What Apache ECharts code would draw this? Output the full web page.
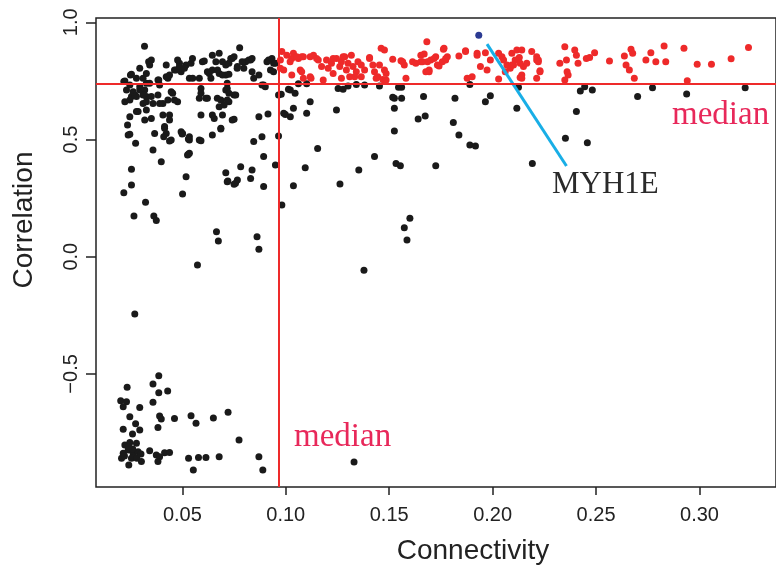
<!DOCTYPE html>
<html>
<head>
<meta charset="utf-8">
<script src="https://cdn.jsdelivr.net/npm/echarts@6/dist/echarts.min.js"></script>
<style>
  html, body { margin: 0; padding: 0; background: #fff; }
  #main { width: 776px; height: 571px; }
</style>
</head>
<body>
<div id="main"></div>
<script>
// 数据: [connectivity, correlation]
var blackPoints = [
  [0.0317,0.898],[0.0217,0.747],[0.0249,0.775],[0.0294,0.804],[0.0337,0.832],[0.035,0.839],[0.023,0.711],[0.0254,0.683],
  [0.0222,0.661],[0.027,0.690],[0.0294,0.725],[0.0326,0.740],[0.0318,0.711],[0.0326,0.683],[0.031,0.654],[0.0326,0.626],
  [0.0278,0.619],[0.0246,0.597],[0.0235,0.562],[0.0238,0.519],[0.0274,0.484],[0.0318,0.583],[0.035,0.590],[0.0366,0.526],
  [0.0358,0.455],[0.0398,0.405],[0.0254,0.373],[0.0254,0.306],[0.0217,0.273],[0.0322,0.232],[0.0266,0.174],[0.0362,0.174],
  [0.0374,0.154],[0.0573,-0.035],[0.0665,0.107],[0.0674,0.067],[0.0861,0.085],[0.087,0.032],[0.1378,-0.058],
  [0.039,0.733],[0.0386,0.754],[0.0422,0.768],[0.0422,0.818],[0.0462,0.797],[0.0486,0.825],[0.0477,0.839],[0.0494,0.789],
  [0.0518,0.818],[0.0542,0.825],[0.0549,0.846],[0.0597,0.832],[0.0645,0.860],[0.0678,0.868],[0.0662,0.832],[0.071,0.818],
  [0.0741,0.846],[0.0777,0.892],[0.0766,0.811],[0.0806,0.832],[0.083,0.839],[0.0837,0.789],[0.087,0.775],[0.0909,0.832],
  [0.0926,0.797],[0.0941,0.825],[0.0453,0.697],[0.043,0.669],[0.0406,0.654],[0.0477,0.661],[0.0438,0.605],[0.0406,0.605],
  [0.0414,0.548],[0.0422,0.526],[0.0446,0.498],[0.0494,0.533],[0.0501,0.526],[0.0534,0.498],[0.0525,0.434],[0.0518,0.341],
  [0.0501,0.267],[0.0582,0.498],[0.059,0.605],[0.0582,0.676],[0.059,0.718],[0.0582,0.761],[0.0614,0.676],[0.0645,0.605],
  [0.0678,0.640],[0.0669,0.676],[0.0645,0.519],[0.0686,0.548],[0.071,0.711],[0.0725,0.661],[0.075,0.690],[0.0717,0.740],
  [0.071,0.775],[0.0678,0.782],[0.063,0.782],[0.075,0.586],[0.071,0.358],[0.0717,0.320],[0.0757,0.313],[0.0766,0.327],
  [0.0782,0.384],[0.083,0.334],[0.0837,0.370],[0.0893,0.299],[0.0893,0.427],[0.0845,0.491],[0.0885,0.512],[0.087,0.597],
  [0.0914,0.609],[0.0893,0.733],[0.0901,0.725],[0.095,0.391],[0.0965,0.515],[0.0981,0.221],
  [0.0342,0.818],[0.0254,0.778],[0.0222,0.750],[0.0246,0.733],[0.0278,0.761],[0.031,0.761],[0.0326,0.782],[0.0342,0.740],
  [0.0382,0.754],[0.043,0.761],[0.0438,0.775],[0.047,0.797],[0.0486,0.811],[0.051,0.804],[0.0534,0.761],[0.0262,0.704],
  [0.0294,0.711],[0.031,0.690],[0.0278,0.683],[0.0246,0.669],[0.0326,0.661],[0.035,0.683],[0.0382,0.690],[0.0358,0.654],
  [0.039,0.654],[0.0446,0.704],[0.0462,0.669],[0.0286,0.619],[0.0438,0.583],[0.0414,0.555],[0.0438,0.494],[0.0246,0.522],
  [0.0534,0.512],[0.0534,0.441],[0.041,0.512],[0.0499,0.523],[0.0529,0.502],[0.059,0.495],[0.0529,0.437],
  [0.0606,0.835],[0.0694,0.832],[0.0734,0.846],[0.075,0.853],[0.0725,0.825],[0.0789,0.832],[0.0821,0.839],[0.0837,0.846],
  [0.0765,0.804],[0.0797,0.804],[0.0645,0.797],[0.0621,0.789],[0.067,0.797],[0.0638,0.761],[0.055,0.761],[0.0694,0.775],
  [0.0725,0.778],[0.0845,0.761],[0.0917,0.839],[0.0933,0.846],[0.095,0.825],[0.0941,0.789],[0.0885,0.733],[0.059,0.697],
  [0.0621,0.676],[0.0686,0.669],[0.0717,0.718],[0.0725,0.697],[0.0758,0.690],[0.0717,0.669],[0.0702,0.647],[0.0694,0.605],
  [0.0654,0.590],[0.0741,0.583],[0.0686,0.545],[0.0965,0.690],[0.072,0.323],[0.075,0.309],
  [0.0978,0.693],[0.1022,0.711],[0.1045,0.697],[0.1061,0.738],[0.1101,0.738],[0.1118,0.661],[0.1101,0.612],[0.1037,0.633],
  [0.1022,0.597],[0.099,0.612],[0.1154,0.462],[0.1094,0.380],[0.1037,0.303],[0.1245,0.626],[0.1262,0.310],[0.1253,0.718],
  [0.1277,0.714],[0.1301,0.728],[0.1341,0.735],[0.1381,0.733],[0.1429,0.427],[0.1353,0.370],[0.1453,0.728],[0.1525,0.676],
  [0.1525,0.633],[0.1525,0.536],[0.1533,0.398],[0.1545,0.723],[0.156,0.723],[0.1517,0.680],[0.156,0.676],[0.1554,0.388],
  [0.1666,0.683],[0.164,0.587],[0.1674,0.600],[0.1725,0.388],[0.1818,0.676],[0.181,0.573],[0.1837,0.519],[0.189,0.477],
  [0.1917,0.472],[0.189,0.735],[0.1965,0.661],[0.1989,0.687],[0.2117,0.633],[0.2125,0.723],[0.2192,0.398],[0.2424,0.707],
  [0.2445,0.725],[0.2482,0.711],[0.2405,0.619],[0.2352,0.505],[0.2458,0.486],[0.2701,0.683],[0.2773,0.721],[0.2938,0.694],
  [0.3221,0.721],[0.1573,0.124],[0.16,0.164],[0.1586,0.071],[0.1013,0.714],[0.0998,0.607],
  [0.027,-0.244],[0.0386,-0.508],[0.0358,-0.543],[0.0233,-0.557],[0.0386,-0.580],[0.0429,-0.573],[0.0202,-0.614],[0.023,-0.619],
  [0.0214,-0.640],[0.0294,-0.643],[0.0358,-0.621],[0.0246,-0.683],[0.039,-0.680],[0.0398,-0.692],[0.0462,-0.690],[0.0542,-0.678],
  [0.0566,-0.711],[0.065,-0.688],[0.0721,-0.664],[0.0274,-0.713],[0.0294,-0.739],[0.0214,-0.736],[0.0259,-0.756],[0.0382,-0.729],
  [0.0774,-0.782],[0.0222,-0.803],[0.0246,-0.793],[0.0278,-0.796],[0.0214,-0.839],[0.0238,-0.825],[0.0262,-0.839],[0.0286,-0.832],
  [0.0206,-0.860],[0.0254,-0.860],[0.0302,-0.874],[0.0241,-0.889],[0.0342,-0.828],[0.0374,-0.846],[0.039,-0.853],[0.0382,-0.874],
  [0.0414,-0.836],[0.0438,-0.835],[0.053,-0.860],[0.0553,-0.910],[0.0578,-0.857],[0.0614,-0.857],[0.0678,-0.853],[0.087,-0.853],
  [0.0889,-0.910],[0.133,-0.876],[0.022,-0.850],[0.026,-0.820],[0.028,-0.860],[0.024,-0.810],[0.030,-0.842]
];

var redPoints = [
  [0.0981,0.875],[0.0974,0.839],[0.0974,0.804],[0.099,0.797],[0.1005,0.860],[0.1029,0.846],[0.1037,0.868],[0.1061,0.846],
  [0.1085,0.853],[0.1029,0.775],[0.107,0.797],[0.1085,0.761],[0.1122,0.761],[0.1118,0.853],[0.1134,0.860],[0.1157,0.839],
  [0.1181,0.754],[0.1173,0.811],[0.1197,0.839],[0.1205,0.804],[0.1221,0.825],[0.1229,0.782],[0.1245,0.846],[0.1261,0.811],
  [0.1269,0.832],[0.1285,0.853],[0.1293,0.797],[0.1301,0.825],[0.1317,0.860],[0.1325,0.811],[0.1269,0.761],[0.1309,0.768],
  [0.1341,0.789],[0.1349,0.832],[0.1365,0.818],[0.1381,0.797],[0.1405,0.846],[0.1421,0.818],[0.1429,0.789],[0.1445,0.768],
  [0.1461,0.889],[0.1477,0.882],[0.1477,0.797],[0.1485,0.782],[0.1477,0.752],[0.1517,0.842],[0.1453,0.818],[0.1469,0.756],
  [0.1557,0.836],[0.1573,0.818],[0.1581,0.761],[0.1613,0.832],[0.1629,0.825],[0.1653,0.832],[0.1653,0.860],[0.1669,0.865],
  [0.1682,0.917],[0.1685,0.832],[0.1701,0.839],[0.1693,0.789],[0.1677,0.789],[0.1725,0.853],[0.1741,0.814],[0.1762,0.885],
  [0.1773,0.839],[0.1781,0.853],[0.1837,0.856],[0.1869,0.879],[0.1877,0.761],[0.1901,0.768],[0.1925,0.868],[0.1965,0.870],
  [0.1941,0.811],[0.1973,0.797],[0.1989,0.839],[0.2029,0.868],[0.2045,0.853],[0.2053,0.839],[0.2069,0.818],[0.2093,0.818],
  [0.2061,0.789],[0.2029,0.758],[0.2093,0.868],[0.2117,0.882],[0.2141,0.882],[0.2129,0.850],[0.2149,0.811],[0.2165,0.825],
  [0.2133,0.765],[0.2141,0.775],[0.2189,0.875],[0.2213,0.853],[0.2221,0.839],[0.2229,0.789],[0.2213,0.761],[0.2325,0.825],
  [0.2349,0.896],[0.2357,0.839],[0.236,0.789],[0.2365,0.775],[0.2349,0.754],[0.2397,0.882],[0.2405,0.860],[0.2413,0.825],
  [0.2453,0.846],[0.2469,0.850],[0.2493,0.870],[0.2565,0.835],[0.2637,0.856],[0.2645,0.818],[0.2661,0.797],[0.2669,0.885],
  [0.2677,0.868],[0.2685,0.761],[0.2741,0.839],[0.2765,0.870],[0.2789,0.832],[0.2829,0.899],[0.2837,0.832],[0.2925,0.889],
  [0.2941,0.751],[0.2989,0.821],[0.3058,0.821],[0.3153,0.845],[0.3237,0.893],
  [0.1021,0.832],[0.1053,0.853],[0.1077,0.853],[0.1149,0.846],[0.1229,0.846],[0.1277,0.853],[0.1405,0.850],[0.1077,0.789],
  [0.1118,0.768],[0.1333,0.768],[0.1365,0.768],[0.1437,0.761],[0.1485,0.754],[0.1565,0.832],[0.1661,0.832],[0.1693,0.797],
  [0.1717,0.846],[0.1733,0.818],[0.1757,0.832],[0.1765,0.889],[0.1773,0.846],[0.1869,0.875],[0.1925,0.860],[0.2085,0.804],
  [0.2109,0.839],[0.2133,0.825],[0.2101,0.818],[0.2213,0.839],[0.2221,0.832],[0.2229,0.793],[0.2141,0.761]
];

var highlightPoint = [[0.1933, 0.9445]];   // MYH1E
var pointerLine = [[0.1973, 0.907], [0.2357, 0.387]];

var medianConnectivity = 0.0965;
var medianCorrelation = 0.740;

var xTicks = [0.05, 0.10, 0.15, 0.20, 0.25, 0.30];
var yTicks = [-0.5, 0.0, 0.5, 1.0];

var myChart = echarts.init(document.getElementById('main'));

var sans = 'Liberation Sans, Arial, sans-serif';
var serif = 'Liberation Serif, Times New Roman, serif';

var option = {
    animation: false,
    backgroundColor: '#fff',
    grid: {
        left: 96, top: 18, right: -5, bottom: 84,
        show: true, borderColor: '#222', borderWidth: 1.5, backgroundColor: 'transparent'
    },
    xAxis: {
        type: 'value',
        min: 0.00825, max: 0.337,
        splitLine: { show: false },
        axisLine: { show: false, onZero: false },
        axisTick: { show: true, length: 8, inside: false, customValues: xTicks,
            lineStyle: { color: '#222', width: 1.5 } },
        axisLabel: { customValues: xTicks, margin: 18, color: '#222',
            fontFamily: sans, fontSize: 20,
            formatter: function (v) { return v.toFixed(2); } }
    },
    yAxis: {
        type: 'value',
        min: -0.9825, max: 1.0184,
        splitLine: { show: false },
        axisLine: { show: false, onZero: false },
        axisTick: { show: true, length: 10, customValues: yTicks,
            lineStyle: { color: '#222', width: 1.5 } },
        axisLabel: { customValues: yTicks, margin: 15, rotate: 90, color: '#222',
            fontFamily: sans, fontSize: 20,
            formatter: function (v) {
                return v < 0 ? '\u2212' + Math.abs(v).toFixed(1) : v.toFixed(1);
            } }
    },
    series: [
        {
            name: 'other', type: 'scatter', symbolSize: 7,
            itemStyle: { color: '#1a1a1a', opacity: 1 },
            data: blackPoints,
            markLine: {
                silent: true, symbol: ['none', 'none'], precision: 4,
                label: { show: false },
                lineStyle: { color: '#ee2a2a', width: 2, type: 'solid' },
                data: [{ xAxis: medianConnectivity }, { yAxis: medianCorrelation }]
            }
        },
        {
            name: 'hub', type: 'scatter', symbolSize: 7,
            itemStyle: { color: '#ee2a2a', opacity: 1 },
            data: redPoints
        },
        {
            name: 'pointer', type: 'line', symbol: 'none',
            lineStyle: { color: '#18aee6', width: 3 },
            data: pointerLine, z: 4
        },
        {
            name: 'MYH1E', type: 'scatter', symbolSize: 7,
            itemStyle: { color: '#2b3a92', opacity: 1 },
            data: highlightPoint, z: 5
        }
    ],
    graphic: [
        { type: 'text', x: 473, y: 551, style: { text: 'Connectivity', font: '28px ' + sans, fill: '#222',
            textAlign: 'center', textVerticalAlign: 'middle' } },
        { type: 'text', x: 24, y: 220, rotation: Math.PI / 2, style: { text: 'Correlation', font: '28px ' + sans, fill: '#222',
            textAlign: 'center', textVerticalAlign: 'middle' } },
        { type: 'text', x: 294, y: 437, style: { text: 'median', font: '33px ' + serif, fill: '#e8285a',
            textAlign: 'left', textVerticalAlign: 'middle' } },
        { type: 'text', x: 672, y: 115, style: { text: 'median', font: '33px ' + serif, fill: '#e8285a',
            textAlign: 'left', textVerticalAlign: 'middle' } },
        { type: 'text', x: 552, y: 185, style: { text: 'MYH1E', font: '31px ' + serif, fill: '#2a2a2a',
            textAlign: 'left', textVerticalAlign: 'middle' } }
    ]
};
myChart.setOption(option);
</script>
</body>
</html>
